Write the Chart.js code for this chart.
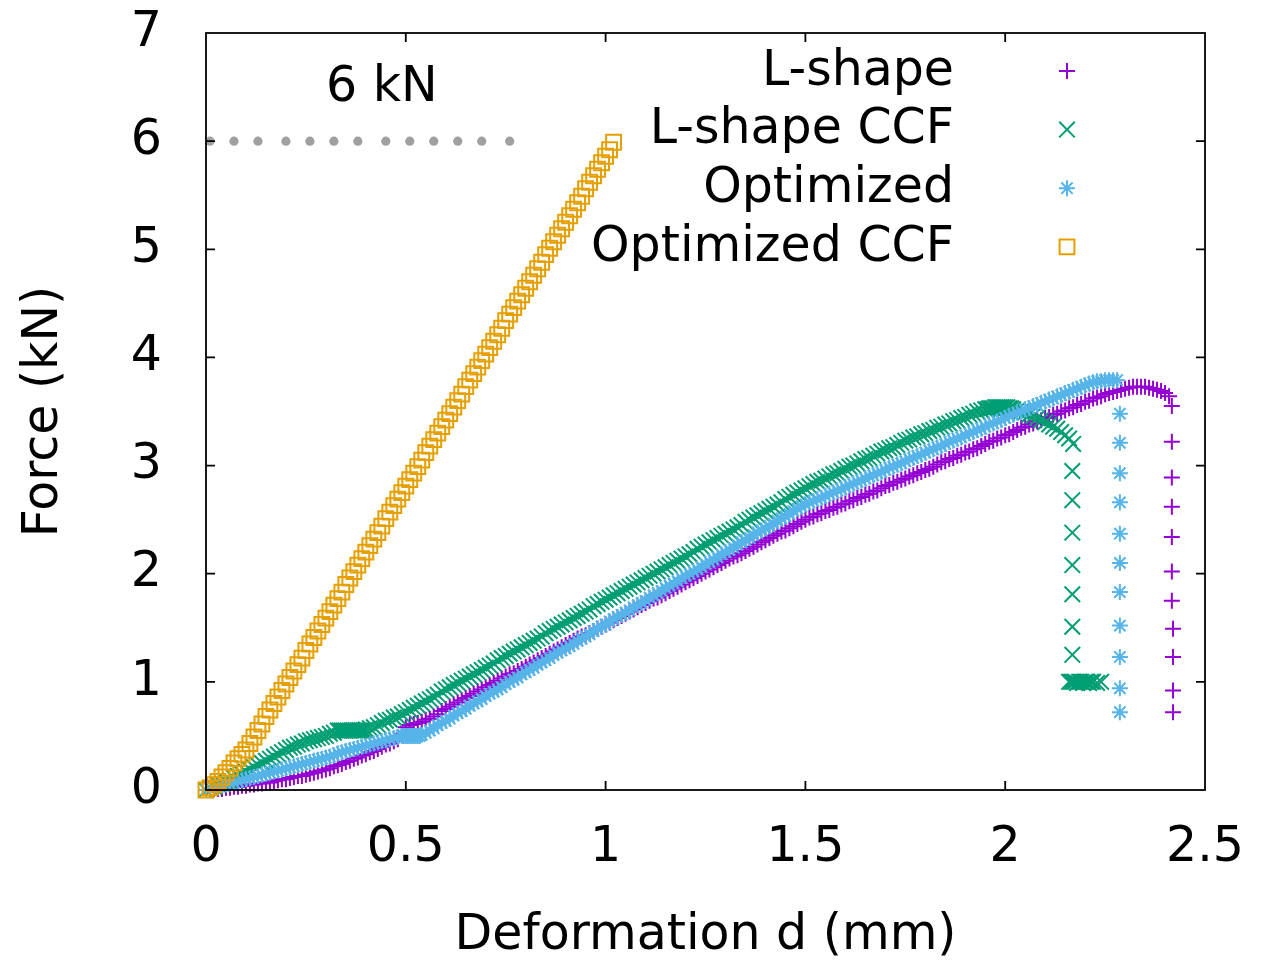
<!DOCTYPE html>
<html>
<head>
<meta charset="utf-8">
<script src="https://cdn.jsdelivr.net/npm/chart.js@4.4.1/dist/chart.umd.min.js"></script>
<style>
  html, body { margin: 0; padding: 0; background: #ffffff; }
  #wrap { width: 1273px; height: 960px; }
</style>
</head>
<body>
<div id="wrap"><canvas id="c" width="1273" height="960"></canvas></div>
<script>
// ---------------- data ----------------
const seriesNames = ["L-shape", "L-shape CCF", "Optimized", "Optimized CCF"];

const xTicks = [0, 0.5, 1, 1.5, 2, 2.5];
const yTicks = [0, 1, 2, 3, 4, 5, 6, 7];

// deformation grid (mm) on which the dense loading curves are read
const gridX = [
  0,0.01,0.02,0.03,0.04,0.05,0.06,0.07,0.08,0.09,0.10,0.11,0.12,0.13,0.14,0.15,0.16,0.17,0.18,0.19,
  0.20,0.21,0.22,0.23,0.24,0.25,0.26,0.27,0.28,0.29,0.30,0.31,0.32,0.33,0.34,0.35,0.36,0.37,0.38,0.39,
  0.40,0.41,0.42,0.43,0.44,0.45,0.46,0.47,0.48,0.49,0.50,0.51,0.52,0.53,0.54,0.55,0.56,0.57,0.58,0.59,
  0.60,0.61,0.62,0.63,0.64,0.65,0.66,0.67,0.68,0.69,0.70,0.71,0.72,0.73,0.74,0.75,0.76,0.77,0.78,0.79,
  0.80,0.81,0.82,0.83,0.84,0.85,0.86,0.87,0.88,0.89,0.90,0.91,0.92,0.93,0.94,0.95,0.96,0.97,0.98,0.99,
  1.00,1.01,1.02,1.03,1.04,1.05,1.06,1.07,1.08,1.09,1.10,1.11,1.12,1.13,1.14,1.15,1.16,1.17,1.18,1.19,
  1.20,1.21,1.22,1.23,1.24,1.25,1.26,1.27,1.28,1.29,1.30,1.31,1.32,1.33,1.34,1.35,1.36,1.37,1.38,1.39,
  1.40,1.41,1.42,1.43,1.44,1.45,1.46,1.47,1.48,1.49,1.50,1.51,1.52,1.53,1.54,1.55,1.56,1.57,1.58,1.59,
  1.60,1.61,1.62,1.63,1.64,1.65,1.66,1.67,1.68,1.69,1.70,1.71,1.72,1.73,1.74,1.75,1.76,1.77,1.78,1.79,
  1.80,1.81,1.82,1.83,1.84,1.85,1.86,1.87,1.88,1.89,1.90,1.91,1.92,1.93,1.94,1.95,1.96,1.97,1.98,1.99,
  2.00,2.01,2.02,2.03,2.04,2.05,2.06,2.07,2.08,2.09,2.10,2.11,2.12,2.13,2.14,2.15,2.16,2.17,2.18,2.19,
  2.20,2.21,2.22,2.23,2.24,2.25,2.26,2.27,2.28,2.29,2.30,2.31,2.32,2.33,2.34,2.35,2.36,2.37,2.38,2.39,
  2.40,2.41];

// L-shape (purple +): force on gridX, then the failure column
const lshapeY = [
  0,0,0.01,0.01,0.01,0.02,0.02,0.03,0.03,0.04,
  0.04,0.05,0.05,0.06,0.06,0.07,0.07,0.08,0.09,0.10,
  0.10,0.11,0.12,0.13,0.13,0.14,0.15,0.16,0.17,0.18,
  0.19,0.20,0.22,0.23,0.24,0.26,0.27,0.29,0.30,0.32,
  0.33,0.35,0.36,0.38,0.40,0.42,0.43,0.45,0.47,0.52,
  0.58,0.60,0.61,0.62,0.63,0.65,0.66,0.68,0.70,0.73,
  0.75,0.77,0.79,0.81,0.83,0.85,0.87,0.89,0.91,0.93,
  0.95,0.97,0.99,1.01,1.03,1.05,1.07,1.08,1.10,1.12,
  1.14,1.16,1.18,1.20,1.22,1.24,1.26,1.28,1.30,1.32,
  1.34,1.36,1.38,1.40,1.42,1.43,1.45,1.47,1.49,1.51,
  1.53,1.55,1.57,1.59,1.61,1.63,1.65,1.67,1.69,1.71,
  1.73,1.75,1.77,1.78,1.80,1.82,1.84,1.86,1.88,1.90,
  1.92,1.94,1.96,1.98,2.00,2.02,2.04,2.06,2.08,2.10,
  2.12,2.14,2.16,2.17,2.19,2.21,2.23,2.25,2.27,2.29,
  2.31,2.33,2.35,2.37,2.39,2.40,2.42,2.44,2.46,2.48,
  2.50,2.52,2.53,2.55,2.56,2.58,2.59,2.61,2.62,2.64,
  2.65,2.67,2.68,2.70,2.71,2.73,2.74,2.76,2.77,2.79,
  2.81,2.82,2.84,2.85,2.87,2.88,2.90,2.91,2.93,2.94,
  2.96,2.97,2.99,3.01,3.03,3.04,3.06,3.07,3.09,3.10,
  3.12,3.13,3.15,3.16,3.18,3.20,3.22,3.23,3.25,3.26,
  3.28,3.29,3.31,3.33,3.35,3.36,3.38,3.39,3.41,3.42,
  3.44,3.45,3.47,3.48,3.50,3.51,3.53,3.54,3.56,3.57,
  3.59,3.60,3.62,3.63,3.64,3.66,3.67,3.68,3.69,3.70,
  3.71,3.72,3.73,3.73,3.73,3.73,3.72,3.71,3.70,3.69,
  3.67,3.64];
const lshapeTailX = [2.417,2.417,2.417,2.417,2.417,2.417,2.417,2.42,2.42,2.42,2.42];
const lshapeTailY = [3.55,3.22,2.89,2.62,2.34,2.02,1.75,1.49,1.23,0.92,0.72];

// L-shape CCF (green x)
const lshapeCcfY = [
  0,0.02,0.03,0.05,0.06,0.08,0.09,0.11,0.13,0.15,
  0.17,0.19,0.21,0.23,0.25,0.27,0.29,0.31,0.33,0.35,
  0.37,0.39,0.40,0.42,0.43,0.45,0.46,0.47,0.48,0.49,
  0.50,0.52,0.53,0.55,0.55,0.55,0.55,0.55,0.55,0.55,
  0.56,0.57,0.58,0.60,0.62,0.64,0.65,0.67,0.68,0.70,
  0.72,0.74,0.76,0.78,0.80,0.82,0.84,0.86,0.88,0.91,
  0.93,0.95,0.97,0.99,1.01,1.03,1.05,1.07,1.09,1.11,
  1.13,1.15,1.17,1.20,1.22,1.24,1.26,1.28,1.30,1.32,
  1.34,1.36,1.38,1.40,1.42,1.45,1.47,1.49,1.51,1.53,
  1.55,1.57,1.59,1.61,1.63,1.65,1.67,1.70,1.72,1.74,
  1.76,1.78,1.80,1.82,1.84,1.86,1.88,1.90,1.92,1.94,
  1.96,1.98,2.00,2.02,2.04,2.06,2.08,2.10,2.12,2.14,
  2.16,2.18,2.20,2.23,2.25,2.27,2.29,2.31,2.33,2.35,
  2.37,2.39,2.41,2.43,2.45,2.48,2.50,2.52,2.54,2.56,
  2.58,2.60,2.62,2.64,2.66,2.69,2.71,2.73,2.75,2.77,
  2.79,2.81,2.83,2.85,2.86,2.88,2.90,2.92,2.93,2.95,
  2.97,2.99,3.00,3.02,3.04,3.06,3.07,3.09,3.11,3.13,
  3.14,3.16,3.17,3.19,3.21,3.23,3.24,3.26,3.27,3.29,
  3.30,3.32,3.33,3.35,3.36,3.38,3.39,3.41,3.42,3.44,
  3.45,3.47,3.48,3.50,3.51,3.52,3.53,3.53,3.54,3.54,
  3.54,3.53,3.52,3.51,3.50,3.49,3.47,3.46,3.44,3.42,
  3.40,3.38,3.36,3.34,3.31,3.28,3.25,3.20];
const lshapeCcfTailX = [2.168,2.168,2.168,2.168,2.168,2.168,2.168,
  2.16,2.165,2.17,2.175,2.18,2.185,2.19,2.195,2.20,2.205,2.21,2.215,2.22,2.23,2.24,
  0.335,0.345,0.355,0.365,0.375,0.385,0.395,1.955,1.965,1.975,1.985,1.995,2.005,2.015];
const lshapeCcfTailY = [2.95,2.68,2.38,2.08,1.81,1.51,1.25,
  1.00,1.00,1.00,1.00,0.99,1.00,1.00,0.99,1.00,1.00,0.99,1.00,1.00,0.99,1.00,
  0.55,0.55,0.55,0.55,0.55,0.55,0.55,3.52,3.53,3.54,3.54,3.54,3.54,3.53];

// Optimized (blue *)
const optimizedY = [
  0,0.01,0.02,0.03,0.04,0.05,0.06,0.07,0.08,0.09,
  0.10,0.11,0.12,0.13,0.14,0.15,0.16,0.17,0.18,0.19,
  0.20,0.21,0.22,0.23,0.24,0.25,0.26,0.27,0.28,0.29,
  0.30,0.31,0.32,0.34,0.35,0.36,0.37,0.38,0.39,0.40,
  0.41,0.42,0.43,0.44,0.45,0.46,0.47,0.48,0.49,0.50,
  0.50,0.50,0.50,0.50,0.51,0.53,0.55,0.57,0.60,0.62,
  0.64,0.66,0.69,0.71,0.73,0.75,0.78,0.80,0.82,0.84,
  0.87,0.89,0.91,0.93,0.95,0.98,1.00,1.02,1.04,1.07,
  1.09,1.11,1.13,1.16,1.18,1.20,1.22,1.25,1.27,1.29,
  1.31,1.33,1.35,1.38,1.40,1.42,1.44,1.47,1.49,1.51,
  1.53,1.56,1.58,1.60,1.62,1.64,1.66,1.69,1.71,1.73,
  1.75,1.78,1.80,1.82,1.84,1.87,1.89,1.91,1.93,1.96,
  1.98,2.00,2.02,2.04,2.06,2.09,2.11,2.13,2.15,2.18,
  2.20,2.22,2.24,2.27,2.29,2.31,2.33,2.36,2.38,2.40,
  2.42,2.44,2.46,2.49,2.51,2.53,2.55,2.58,2.60,2.62,
  2.64,2.66,2.67,2.69,2.70,2.72,2.74,2.75,2.77,2.78,
  2.80,2.82,2.83,2.85,2.86,2.88,2.90,2.91,2.93,2.94,
  2.96,2.98,2.99,3.01,3.02,3.04,3.06,3.07,3.09,3.10,
  3.12,3.14,3.15,3.17,3.18,3.20,3.22,3.23,3.25,3.26,
  3.28,3.30,3.31,3.33,3.34,3.36,3.38,3.39,3.41,3.42,
  3.44,3.46,3.47,3.49,3.50,3.52,3.53,3.55,3.56,3.58,
  3.59,3.61,3.62,3.64,3.65,3.67,3.68,3.70,3.71,3.73,
  3.74,3.76,3.77,3.78,3.78,3.79,3.79,3.79,3.79];
const optimizedTailX = [2.287,2.287,2.287,2.287,2.287,2.287,2.287,2.287,2.287,2.287,2.287,
  0.495,0.505,0.515,0.525,0.535];
const optimizedTailY = [3.48,3.21,2.93,2.66,2.37,2.10,1.83,1.52,1.23,0.94,0.72,
  0.50,0.50,0.50,0.50,0.50];

// Optimized CCF (orange squares)
const optimizedCcfX = [0,0.01,0.02,0.03,0.04,0.05,0.06,0.07,0.08,0.09,0.10,0.11,0.12,0.13,0.14,0.15,0.16,0.17,0.18,0.19,0.20,0.21,0.22,0.23,0.24,0.25,0.26,0.27,0.28,0.29,
  0.30,0.31,0.32,0.33,0.34,0.35,0.36,0.37,0.38,0.39,0.40,0.41,0.42,0.43,0.44,0.45,0.46,0.47,0.48,0.49,0.50,0.51,0.52,0.53,0.54,0.55,0.56,0.57,0.58,0.59,
  0.60,0.61,0.62,0.63,0.64,0.65,0.66,0.67,0.68,0.69,0.70,0.71,0.72,0.73,0.74,0.75,0.76,0.77,0.78,0.79,0.80,0.81,0.82,0.83,0.84,0.85,0.86,0.87,0.88,0.89,
  0.90,0.91,0.92,0.93,0.94,0.95,0.96,0.97,0.98,0.99,1.00,1.01,1.02];
const optimizedCcfY = [0,0.02,0.05,0.08,0.12,0.16,0.20,0.25,0.29,0.33,0.37,0.43,0.49,0.55,0.61,0.68,0.74,0.80,0.86,0.92,0.98,1.04,1.10,1.16,1.22,1.29,1.35,1.41,1.47,1.53,
  1.59,1.65,1.71,1.77,1.83,1.90,1.96,2.02,2.08,2.14,2.20,2.26,2.32,2.38,2.44,2.51,2.57,2.63,2.69,2.75,2.81,2.87,2.93,2.99,3.05,3.12,3.18,3.24,3.30,3.36,
  3.42,3.48,3.54,3.60,3.66,3.73,3.79,3.85,3.91,3.97,4.03,4.09,4.15,4.21,4.27,4.34,4.40,4.46,4.52,4.58,4.64,4.70,4.76,4.82,4.88,4.95,5.01,5.07,5.13,5.19,
  5.25,5.31,5.37,5.43,5.49,5.56,5.62,5.68,5.74,5.80,5.86,5.92,5.99];

// 6 kN reference level (grey dots)
const limitX = [0.01,0.07,0.13,0.20,0.26,0.32,0.38,0.45,0.51,0.57,0.63,0.69,0.76];
const limitY = [6,6,6,6,6,6,6,6,6,6,6,6,6];
const limitLabel = "6 kN";
const limitLabelPos = [0.44, 6.37];

const xTitle = "Deformation d (mm)";
const yTitle = "Force (kN)";

// ---------------- chart ----------------
const pts = (xs, ys) => ys.map((y, i) => ({ x: xs[i], y: y }));
const FONT = "'DejaVu Sans', 'Liberation Sans', sans-serif";
const FS = 49;
Chart.defaults.font.family = FONT;
Chart.defaults.color = "#000";

const colors = ["#9400d3", "#009e73", "#56b4e9", "#e69f00"];
const styles = ["cross", "crossRot", "star", "rect"];
const radii = [8, 11, 8, 10.5];
const LW = 2;

const datasets = [
  { label: seriesNames[0], data: pts(gridX, lshapeY).concat(pts(lshapeTailX, lshapeTailY)), order: 4 },
  { label: seriesNames[1], data: pts(gridX, lshapeCcfY).concat(pts(lshapeCcfTailX, lshapeCcfTailY)), order: 3 },
  { label: seriesNames[2], data: pts(gridX, optimizedY).concat(pts(optimizedTailX, optimizedTailY)), order: 2 },
  { label: seriesNames[3], data: pts(optimizedCcfX, optimizedCcfY), order: 1 }
].map((d, i) => Object.assign(d, {
  showLine: false,
  pointStyle: styles[i],
  pointRadius: radii[i],
  pointBorderWidth: LW,
  pointBorderColor: colors[i],
  pointBackgroundColor: "rgba(0,0,0,0)",
  borderColor: colors[i],
  backgroundColor: "rgba(0,0,0,0)",
  clip: false
}));
datasets.push({
  label: "limit", data: pts(limitX, limitY), order: 5, showLine: false,
  pointStyle: "circle", pointRadius: 4.6, pointBorderWidth: 0,
  pointBackgroundColor: "#a0a0a0", pointBorderColor: "#a0a0a0", clip: false
});

function drawSymbol(ctx, style, r, x, y) {
  if (Chart.helpers && Chart.helpers.drawPoint) {
    Chart.helpers.drawPoint(ctx, { pointStyle: style, radius: r, borderWidth: LW, rotation: 0 }, x, y);
    return;
  }
  ctx.beginPath();
  const d = r * Math.SQRT1_2;
  if (style === "cross" || style === "star") { ctx.moveTo(x - r, y); ctx.lineTo(x + r, y); ctx.moveTo(x, y - r); ctx.lineTo(x, y + r); }
  if (style === "crossRot" || style === "star") { ctx.moveTo(x - d, y - d); ctx.lineTo(x + d, y + d); ctx.moveTo(x - d, y + d); ctx.lineTo(x + d, y - d); }
  if (style === "rect") { ctx.rect(x - d, y - d, 2 * d, 2 * d); }
  ctx.stroke();
}

const frame = {
  id: "frame",
  afterDatasetsDraw(chart) {
    const ctx = chart.ctx, a = chart.chartArea;
    const xs = chart.scales.x, ys = chart.scales.y;
    ctx.save();
    ctx.strokeStyle = "#000";
    ctx.lineWidth = 1.8;
    ctx.strokeRect(a.left, a.top, a.right - a.left, a.bottom - a.top);
    const T = 9;
    ctx.beginPath();
    xTicks.forEach(v => {
      const p = xs.getPixelForValue(v);
      if (p <= a.left + 1 || p >= a.right - 1) return;
      ctx.moveTo(p, a.bottom); ctx.lineTo(p, a.bottom - T);
      ctx.moveTo(p, a.top); ctx.lineTo(p, a.top + T);
    });
    yTicks.forEach(v => {
      const p = ys.getPixelForValue(v);
      if (p >= a.bottom - 1 || p <= a.top + 1) return;
      ctx.moveTo(a.left, p); ctx.lineTo(a.left + T, p);
      ctx.moveTo(a.right, p); ctx.lineTo(a.right - T, p);
    });
    ctx.stroke();

    // 6 kN label
    ctx.fillStyle = "#000";
    ctx.font = FS + "px " + FONT;
    ctx.textAlign = "center";
    ctx.textBaseline = "alphabetic";
    ctx.fillText(limitLabel, xs.getPixelForValue(limitLabelPos[0]), ys.getPixelForValue(limitLabelPos[1]));

    // legend (gnuplot style: right-aligned text, sample on the right)
    const textRight = 954, symX = 1067, row0 = 71, rowH = 58.6;
    ctx.textAlign = "right";
    ctx.textBaseline = "middle";
    for (let i = 0; i < 4; i++) {
      const y = row0 + i * rowH;
      ctx.fillStyle = "#000";
      ctx.fillText(seriesNames[i], textRight, y + 1);
      ctx.strokeStyle = colors[i];
      ctx.fillStyle = "rgba(0,0,0,0)";
      ctx.lineWidth = LW;
      drawSymbol(ctx, styles[i], radii[i], symX, y);
    }
    ctx.restore();
  }
};

new Chart(document.getElementById("c"), {
  type: "scatter",
  data: { datasets: datasets },
  plugins: [frame],
  options: {
    responsive: false,
    animation: false,
    events: [],
    layout: { padding: { left: 0, right: 68, top: 33, bottom: 0 } },
    plugins: { legend: { display: false }, tooltip: { enabled: false } },
    scales: {
      x: {
        type: "linear", min: 0, max: 2.5,
        afterBuildTicks: s => { s.ticks = xTicks.map(v => ({ value: v })); },
        afterFit: s => { s.height = 170; s.paddingLeft = 0; s.paddingRight = 0; },
        grid: { display: false, drawTicks: false },
        border: { display: false },
        ticks: { font: { size: FS }, padding: 29, color: "#000", maxRotation: 0, callback: v => String(v) },
        title: { display: true, text: xTitle, font: { size: FS }, color: "#000", padding: { top: 0, bottom: -6 } }
      },
      y: {
        type: "linear", min: 0, max: 7,
        afterBuildTicks: s => { s.ticks = yTicks.map(v => ({ value: v })); },
        afterFit: s => { s.width = 206; s.paddingTop = 0; s.paddingBottom = 0; },
        grid: { display: false, drawTicks: false },
        border: { display: false },
        ticks: { font: { size: FS }, padding: 44, color: "#000", callback: v => String(v) },
        title: { display: true, text: yTitle, font: { size: FS }, color: "#000", padding: { top: 15, bottom: 0 } }
      }
    }
  }
});
</script>
</body>
</html>
